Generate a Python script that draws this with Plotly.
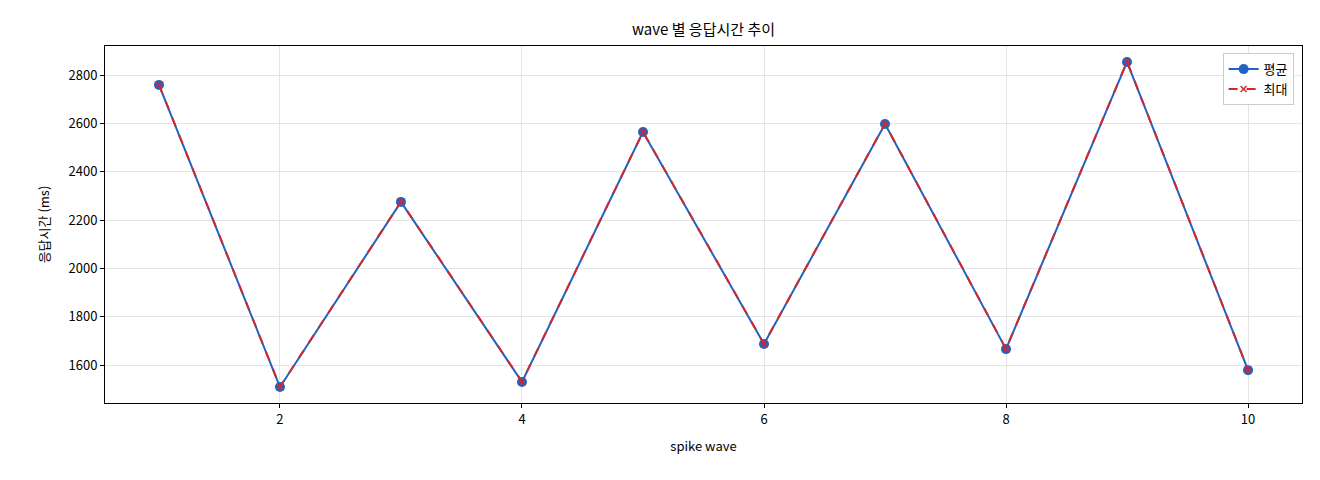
import plotly.graph_objects as go

waves = [1, 2, 3, 4, 5, 6, 7, 8, 9, 10]
avg_ms = [2759, 1509, 2275, 1530, 2564, 1687, 2597, 1666, 2854, 1579]
max_ms = [2760, 1510, 2276, 1531, 2565, 1688, 2598, 1667, 2855, 1580]

font = "Noto Sans CJK KR"

fig = go.Figure()
fig.add_trace(go.Scatter(
    x=waves, y=avg_ms, name="평균", mode="lines+markers",
    line=dict(color="#1f63c4", width=2),
    marker=dict(symbol="circle", size=10, color="#1f63c4"),
))
fig.add_trace(go.Scatter(
    x=waves, y=max_ms, name="최대", mode="lines+markers",
    line=dict(color="#d62728", width=2, dash="dash"),
    marker=dict(symbol="x-thin", size=6, line=dict(width=1.5, color="#d62728"), color="#d62728"),
))

axis = dict(showline=True, linecolor="black", mirror=True, ticks="outside",
            ticklen=4, tickcolor="black", gridcolor="#e5e5e5", zeroline=False,
            tickfont=dict(size=13, color="black"))

fig.update_layout(
    width=1320, height=480,
    margin=dict(l=97, r=26, t=38, b=85),
    plot_bgcolor="white", paper_bgcolor="white",
    font=dict(family=font, color="black"),
    title=dict(text="wave 별 응답시간 추이", x=0.5, xref="paper", y=0.955,
               yanchor="middle", font=dict(size=15)),
    xaxis=dict(axis, range=[0.554, 10.446], tickvals=[2, 4, 6, 8, 10],
               title=dict(text="spike wave", font=dict(size=13))),
    yaxis=dict(axis, range=[1443, 2920], tickvals=[1600, 1800, 2000, 2200, 2400, 2600, 2800],
               title=dict(text="응답시간 (ms)", font=dict(size=13))),
    legend=dict(x=0.993, y=0.98, xanchor="right", yanchor="top",
                bordercolor="#cccccc", borderwidth=1, bgcolor="white",
                font=dict(size=13)),
)

fig.write_html("out.html")
